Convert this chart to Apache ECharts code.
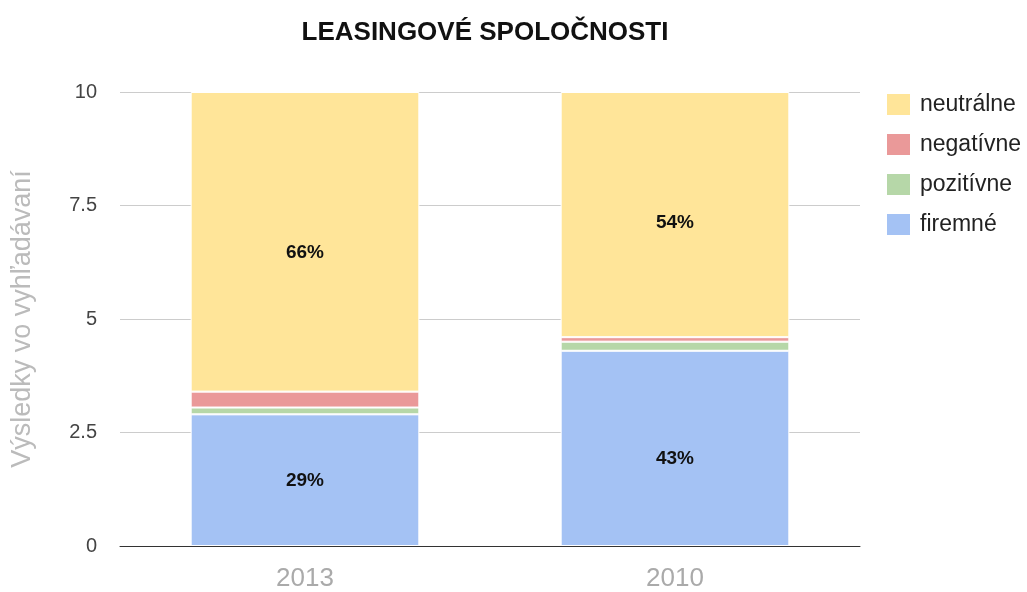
<!DOCTYPE html>
<html>
<head>
<meta charset="utf-8">
<script src="https://cdn.jsdelivr.net/npm/echarts@6/dist/echarts.min.js"></script>
<style>
  html, body { margin: 0; padding: 0; background: #fff; }
  #chart { width: 1027px; height: 592px; }
</style>
</head>
<body>
<div id="chart"></div>
<script>
// dáta odčítané z obrázka (súčet = 10)
const years = ["2013", "2010"];
const firemne = [2.9, 4.3];
const pozitivne = [0.15, 0.2];
const negativne = [0.35, 0.1];
const neutralne = [6.6, 5.4];
const yTicks = [0, 2.5, 5, 7.5, 10];

const totals = years.map((_, i) => firemne[i] + pozitivne[i] + negativne[i] + neutralne[i]);

function pctLabel(p) {
  // percentá len pri väčších segmentoch
  const v = p.value / totals[p.dataIndex];
  return v >= 0.1 ? Math.round(v * 100) + "%" : "";
}

// posun popisov tak ako v Google grafe
function makeSeries(name, data, color, offsets) {
  return {
    name: name,
    type: "bar",
    stack: "total",
    barWidth: "61.8%",
    data: data.map((v, i) => ({ value: v, label: { offset: [0, offsets[i]] } })),
    itemStyle: { color: color, borderColor: "#fff", borderWidth: 1 },
    label: {
      show: true,
      position: "inside",
      formatter: pctLabel,
      color: "#111",
      fontWeight: "bold",
      fontSize: 19,
      fontFamily: "Liberation Sans, Arial"
    }
  };
}

const option = {
  backgroundColor: "#fff",
  animation: false,
  title: {
    text: "LEASINGOVÉ SPOLOČNOSTI",
    left: 480,
    textAlign: "center",
    top: 15,
    textStyle: { fontSize: 26, fontWeight: "bold", color: "#111", fontFamily: "Liberation Sans, Arial" }
  },
  legend: {
    orient: "vertical",
    left: 880,
    top: 87,
    itemWidth: 25,
    itemHeight: 23,
    itemGap: 15,
    icon: "rect",
    data: ["neutrálne", "negatívne", "pozitívne", "firemné"],
    textStyle: { fontSize: 23, color: "#222", fontFamily: "Liberation Sans, Arial", padding: [0, 0, 0, 4] }
  },
  grid: { left: 120, right: 167, top: 92, bottom: 44, containLabel: false },
  xAxis: {
    type: "category",
    data: years,
    axisTick: { show: false },
    axisLine: { lineStyle: { color: "#333", width: 1 } },
    axisLabel: { fontSize: 26, color: "#aaa", margin: 20, fontFamily: "Liberation Sans, Arial" }
  },
  yAxis: {
    type: "value",
    min: yTicks[0],
    max: yTicks[yTicks.length - 1],
    interval: 2.5,
    name: "Výsledky vo vyhľadávaní",
    nameLocation: "middle",
    nameGap: 84,
    nameTextStyle: { fontSize: 27, color: "#bbb", fontFamily: "Liberation Sans, Arial" },
    axisLine: { show: false },
    axisTick: { show: false },
    axisLabel: { fontSize: 20, color: "#444", margin: 23, fontFamily: "Liberation Sans, Arial" },
    splitLine: { lineStyle: { color: "#ccc" } }
  },
  series: [
    makeSeries("firemné", firemne, "#a4c2f4", [1, 10]),
    makeSeries("pozitívne", pozitivne, "#b6d7a8", [0, 0]),
    makeSeries("negatívne", negativne, "#ea9999", [0, 0]),
    makeSeries("neutrálne", neutralne, "#ffe599", [11, 8])
  ]
};

const myChart = echarts.init(document.getElementById("chart"));
myChart.setOption(option);
</script>
</body>
</html>
